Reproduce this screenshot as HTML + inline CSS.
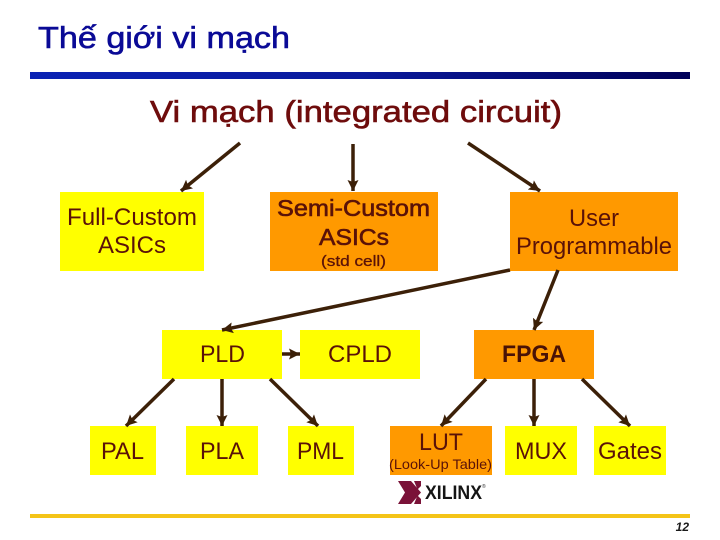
<!DOCTYPE html>
<html>
<head>
<meta charset="utf-8">
<style>
html,body{margin:0;padding:0;background:#fff;width:720px;height:540px;overflow:hidden}
svg{display:block}
text{font-family:"Liberation Sans",Arial,sans-serif}
</style>
</head>
<body>
<svg width="720" height="540" viewBox="0 0 720 540" xmlns="http://www.w3.org/2000/svg">
<defs>
<linearGradient id="g" x1="0" x2="1" y1="0" y2="0">
<stop offset="0" stop-color="#0a22b4"/>
<stop offset="0.5" stop-color="#0a1a9c"/>
<stop offset="1" stop-color="#000058"/>
</linearGradient>
<marker id="a" markerUnits="userSpaceOnUse" markerWidth="14" markerHeight="14" refX="11" refY="6.5" orient="auto">
<path d="M0 1L11 6.5L0 12L2 6.5Z" fill="#3c2008"/>
</marker>
</defs>
<rect width="720" height="540" fill="#fff"/>
<text x="38" y="48" font-size="31" fill="#0a0a96" stroke="#0a0a96" stroke-width="0.6" textLength="252" lengthAdjust="spacingAndGlyphs">Thế giới vi mạch</text>
<rect x="30" y="72" width="660" height="7" fill="url(#g)"/>
<text x="150" y="122" font-size="31" fill="#6e0c0c" stroke="#6e0c0c" stroke-width="0.6" textLength="412" lengthAdjust="spacingAndGlyphs">Vi mạch (integrated circuit)</text>

<g fill="#ffff00">
<rect x="60" y="192" width="144" height="79"/>
<rect x="162" y="330" width="120" height="49"/>
<rect x="300" y="330" width="120" height="49"/>
<rect x="90" y="426" width="66" height="49"/>
<rect x="186" y="426" width="72" height="49"/>
<rect x="288" y="426" width="66" height="49"/>
<rect x="505" y="426" width="72" height="49"/>
<rect x="594" y="426" width="72" height="49"/>
</g>
<g fill="#ff9900">
<rect x="270" y="192" width="168" height="79"/>
<rect x="510" y="192" width="168" height="79"/>
<rect x="474" y="330" width="120" height="49"/>
<rect x="390" y="426" width="102" height="49"/>
</g>

<g stroke="#3c2008" stroke-width="3.5" fill="none" marker-end="url(#a)">
<line x1="240" y1="143" x2="181" y2="191"/>
<line x1="353" y1="144" x2="353" y2="191"/>
<line x1="468" y1="143" x2="540" y2="191"/>
<line x1="510" y1="270" x2="222" y2="330"/>
<line x1="558" y1="270" x2="534" y2="330"/>
<line x1="282" y1="354" x2="300" y2="354"/>
<line x1="174" y1="379" x2="126" y2="426"/>
<line x1="222" y1="379" x2="222" y2="426"/>
<line x1="270" y1="379" x2="318" y2="426"/>
<line x1="486" y1="379" x2="441" y2="426"/>
<line x1="534" y1="379" x2="534" y2="426"/>
<line x1="582" y1="379" x2="630" y2="426"/>
</g>

<g font-size="24" fill="#5a1208">
<text x="67" y="225" textLength="130" lengthAdjust="spacingAndGlyphs">Full-Custom</text>
<text x="98" y="253" textLength="68" lengthAdjust="spacingAndGlyphs">ASICs</text>
<text x="277" y="216" font-size="23" stroke="#5a1208" stroke-width="0.6" textLength="153" lengthAdjust="spacingAndGlyphs">Semi-Custom</text>
<text x="319" y="245" font-size="23" stroke="#5a1208" stroke-width="0.6" textLength="70" lengthAdjust="spacingAndGlyphs">ASICs</text>
<text x="321" y="266" font-size="15" stroke="#5a1208" stroke-width="0.3" textLength="65" lengthAdjust="spacingAndGlyphs">(std cell)</text>
<text x="569" y="226" textLength="50" lengthAdjust="spacingAndGlyphs">User</text>
<text x="516" y="254" textLength="156" lengthAdjust="spacingAndGlyphs">Programmable</text>
<text x="200" y="362" textLength="45" lengthAdjust="spacingAndGlyphs">PLD</text>
<text x="328" y="362" textLength="64" lengthAdjust="spacingAndGlyphs">CPLD</text>
<text x="502" y="362" font-weight="bold" fill="#4a1206" textLength="64" lengthAdjust="spacingAndGlyphs">FPGA</text>
<text x="101" y="459" textLength="43" lengthAdjust="spacingAndGlyphs">PAL</text>
<text x="200" y="459" textLength="44" lengthAdjust="spacingAndGlyphs">PLA</text>
<text x="297" y="459" textLength="47" lengthAdjust="spacingAndGlyphs">PML</text>
<text x="419" y="450" textLength="44" lengthAdjust="spacingAndGlyphs">LUT</text>
<text x="389" y="469" font-size="14" textLength="103" lengthAdjust="spacingAndGlyphs">(Look-Up Table)</text>
<text x="515" y="459" textLength="52" lengthAdjust="spacingAndGlyphs">MUX</text>
<text x="598" y="459" textLength="64" lengthAdjust="spacingAndGlyphs">Gates</text>
</g>

<g fill="#7a1238">
<path d="M398 481H411L421 492.5L411 504H398L405 492.5Z"/>
<path d="M414 481H421V486L417.5 489.5Z"/>
<path d="M414 504H421V499L417.5 495.5Z"/>
</g>
<text x="425" y="499" font-size="19" font-weight="bold" fill="#151515" textLength="57" lengthAdjust="spacingAndGlyphs">XILINX</text>
<text x="482" y="488" font-size="5" fill="#333">®</text>

<rect x="30" y="514" width="660" height="4" fill="#f4c418"/>
<text x="689" y="531" font-size="12" font-weight="bold" font-style="italic" fill="#1a1a1a" text-anchor="end">12</text>
</svg>
</body>
</html>
